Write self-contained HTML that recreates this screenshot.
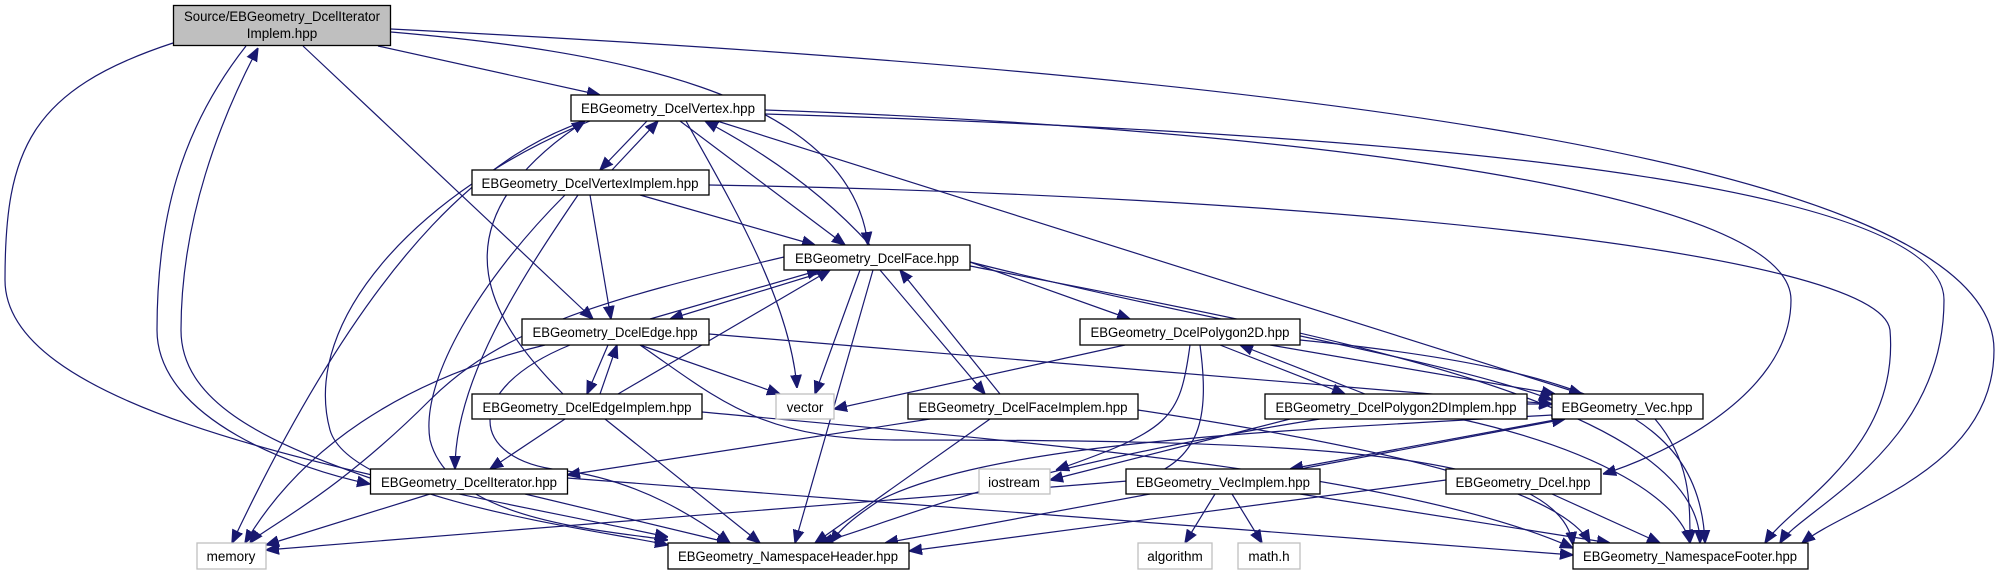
<!DOCTYPE html>
<html><head><meta charset="utf-8"><style>
html,body{margin:0;padding:0;background:#fff;}
svg{display:block;}
text{font-family:"Liberation Sans",sans-serif;font-size:13.5px;fill:#000;}
.e{fill:none;stroke:#191970;stroke-width:1.2;marker-end:url(#a);}
.n{fill:#fff;stroke:#000;stroke-width:1.3;}
.g{fill:#fff;stroke:#bfbfbf;stroke-width:1.3;}
</style></head><body>
<svg width="2000" height="575" viewBox="0 0 2000 575" xmlns="http://www.w3.org/2000/svg">
<defs><marker id="a" viewBox="0 0 10 10" refX="10" refY="5" markerWidth="13" markerHeight="13" markerUnits="userSpaceOnUse" orient="auto"><path d="M0,1 L10,5 L0,9 z" fill="#191970" stroke="#191970"/></marker></defs>
<g>
<path class="e" d="M378,46 L600,95"/>
<path class="e" d="M391,29 C1200,70 1994,150 1994,350 C1994,470 1850,505 1802,543"/>
<path class="e" d="M391,32 C600,50 850,90 868,245"/>
<path class="e" d="M303,46 L593,319"/>
<path class="e" d="M173,43 C30,90 5,150 5,280 C5,420 400,480 668,537"/>
<path class="e" d="M246,46 C180,130 157,220 157,330 C157,420 300,470 370,484"/>
<path class="e" d="M370,478 C260,440 181,400 181,330 C181,220 220,120 258,48"/>
<path class="e" d="M647,121 L600,170"/>
<path class="e" d="M612,170 L658,121"/>
<path class="e" d="M680,121 L845,245"/>
<path class="e" d="M870,245 C820,190 760,150 705,121"/>
<path class="e" d="M686,121 C730,200 790,300 797,388"/>
<path class="e" d="M717,121 L1582,394"/>
<path class="e" d="M765,110 C1200,125 1791,180 1791,300 C1791,400 1650,460 1603,474"/>
<path class="e" d="M765,114 C1300,130 1944,170 1944,300 C1944,450 1800,510 1780,543"/>
<path class="e" d="M709,185 C1300,195 1880,250 1890,330 C1900,450 1790,505 1765,543"/>
<path class="e" d="M640,195 L815,245"/>
<path class="e" d="M590,195 L611,319"/>
<path class="e" d="M578,195 C520,280 455,380 455,469"/>
<path class="e" d="M565,195 C480,280 420,380 430,440 C450,520 600,530 668,540"/>
<path class="e" d="M585,121 C500,150 380,230 232,543"/>
<path class="e" d="M590,121 C420,190 300,320 330,430 C350,500 600,530 668,545"/>
<path class="e" d="M563,394 C500,330 420,230 585,121"/>
<path class="e" d="M608,345 L587,394"/>
<path class="e" d="M600,394 L617,345"/>
<path class="e" d="M650,319 L820,270"/>
<path class="e" d="M830,270 L670,319"/>
<path class="e" d="M709,334 L1552,404"/>
<path class="e" d="M640,345 L780,394"/>
<path class="e" d="M545,345 C400,380 300,450 245,543"/>
<path class="e" d="M570,345 C460,390 470,460 560,470 C640,480 700,520 730,543"/>
<path class="e" d="M640,345 C720,400 760,440 900,440 C1300,440 1560,450 1573,545"/>
<path class="e" d="M565,419 L490,469"/>
<path class="e" d="M605,419 L760,543"/>
<path class="e" d="M702,412 C1000,440 1400,470 1573,548"/>
<path class="e" d="M618,394 L830,270"/>
<path class="e" d="M784,257 C600,300 500,330 430,400 C330,500 260,530 250,543"/>
<path class="e" d="M860,270 L815,394"/>
<path class="e" d="M873,270 L795,543"/>
<path class="e" d="M880,270 L985,394"/>
<path class="e" d="M1000,394 L900,270"/>
<path class="e" d="M970,262 L1130,319"/>
<path class="e" d="M970,262 C1200,320 1450,360 1552,400"/>
<path class="e" d="M970,266 C1300,330 1700,400 1700,543"/>
<path class="e" d="M1125,345 L834,409"/>
<path class="e" d="M1190,345 C1180,420 1170,430 1056,470"/>
<path class="e" d="M1200,345 C1210,420 1200,460 1140,480 C900,500 500,530 266,550"/>
<path class="e" d="M1220,345 L1345,394"/>
<path class="e" d="M1365,394 L1240,345"/>
<path class="e" d="M1270,345 L1555,394"/>
<path class="e" d="M1300,340 C1600,370 1700,420 1705,543"/>
<path class="e" d="M1527,404 L1552,404"/>
<path class="e" d="M1320,419 C1000,470 900,520 820,543"/>
<path class="e" d="M1460,419 C1600,450 1680,500 1690,543"/>
<path class="e" d="M1290,419 L1050,480"/>
<path class="e" d="M930,419 L567,475"/>
<path class="e" d="M990,419 L815,543"/>
<path class="e" d="M1138,410 C1400,450 1560,490 1590,543"/>
<path class="e" d="M1560,419 L1290,469"/>
<path class="e" d="M1300,469 L1565,419"/>
<path class="e" d="M1655,419 C1690,460 1690,500 1690,543"/>
<path class="e" d="M1552,415 C1300,430 1000,440 880,500 C850,520 840,530 830,543"/>
<path class="e" d="M1150,494 L885,543"/>
<path class="e" d="M1215,494 L1185,543"/>
<path class="e" d="M1232,494 L1262,543"/>
<path class="e" d="M1300,494 L1610,543"/>
<path class="e" d="M1446,480 L909,551"/>
<path class="e" d="M1552,494 L1660,543"/>
<path class="e" d="M567,478 L1573,555"/>
<path class="e" d="M430,494 L266,545"/>
<path class="e" d="M525,494 L730,543"/>
</g>
<g>
<rect x="173.5" y="5.5" width="217" height="40" fill="#bfbfbf" stroke="#000" stroke-width="1.3"/>
<text x="282" y="21" text-anchor="middle" textLength="196" lengthAdjust="spacingAndGlyphs">Source/EBGeometry_DcelIterator</text>
<text x="282" y="38" text-anchor="middle">Implem.hpp</text>

<rect class="n" x="571" y="95" width="194" height="26"/><text x="668" y="113" text-anchor="middle" textLength="174" lengthAdjust="spacingAndGlyphs">EBGeometry_DcelVertex.hpp</text>
<rect class="n" x="472" y="170" width="237" height="25"/><text x="590" y="188" text-anchor="middle" textLength="217" lengthAdjust="spacingAndGlyphs">EBGeometry_DcelVertexImplem.hpp</text>
<rect class="n" x="784" y="245" width="186" height="25"/><text x="877" y="263" text-anchor="middle" textLength="164" lengthAdjust="spacingAndGlyphs">EBGeometry_DcelFace.hpp</text>
<rect class="n" x="522" y="319" width="187" height="26"/><text x="615" y="337" text-anchor="middle" textLength="165" lengthAdjust="spacingAndGlyphs">EBGeometry_DcelEdge.hpp</text>
<rect class="n" x="1080" y="319" width="220" height="26"/><text x="1190" y="337" text-anchor="middle" textLength="199" lengthAdjust="spacingAndGlyphs">EBGeometry_DcelPolygon2D.hpp</text>
<rect class="n" x="472" y="394" width="230" height="25"/><text x="587" y="412" text-anchor="middle" textLength="209" lengthAdjust="spacingAndGlyphs">EBGeometry_DcelEdgeImplem.hpp</text>
<rect class="g" x="776" y="394" width="58" height="25"/><text x="805" y="412" text-anchor="middle">vector</text>
<rect class="n" x="908" y="394" width="230" height="25"/><text x="1023" y="412" text-anchor="middle" textLength="209" lengthAdjust="spacingAndGlyphs">EBGeometry_DcelFaceImplem.hpp</text>
<rect class="n" x="1265" y="394" width="262" height="25"/><text x="1396" y="412" text-anchor="middle" textLength="241" lengthAdjust="spacingAndGlyphs">EBGeometry_DcelPolygon2DImplem.hpp</text>
<rect class="n" x="1552" y="394" width="151" height="25"/><text x="1627" y="412" text-anchor="middle" textLength="131" lengthAdjust="spacingAndGlyphs">EBGeometry_Vec.hpp</text>
<rect class="n" x="370.5" y="469" width="197" height="25"/><text x="469" y="487" text-anchor="middle" textLength="176" lengthAdjust="spacingAndGlyphs">EBGeometry_DcelIterator.hpp</text>
<rect class="g" x="979" y="469" width="71" height="25"/><text x="1014" y="487" text-anchor="middle">iostream</text>
<rect class="n" x="1126" y="469" width="194" height="25"/><text x="1223" y="487" text-anchor="middle" textLength="174" lengthAdjust="spacingAndGlyphs">EBGeometry_VecImplem.hpp</text>
<rect class="n" x="1446" y="469" width="155" height="25"/><text x="1523" y="487" text-anchor="middle" textLength="135" lengthAdjust="spacingAndGlyphs">EBGeometry_Dcel.hpp</text>
<rect class="g" x="197" y="543" width="69" height="26"/><text x="231" y="561" text-anchor="middle">memory</text>
<rect class="n" x="668" y="543" width="241" height="26"/><text x="788" y="561" text-anchor="middle" textLength="220" lengthAdjust="spacingAndGlyphs">EBGeometry_NamespaceHeader.hpp</text>
<rect class="g" x="1138" y="543" width="74" height="26"/><text x="1175" y="561" text-anchor="middle">algorithm</text>
<rect class="g" x="1238" y="543" width="62" height="26"/><text x="1269" y="561" text-anchor="middle">math.h</text>
<rect class="n" x="1573" y="543" width="235" height="26"/><text x="1690" y="561" text-anchor="middle" textLength="214" lengthAdjust="spacingAndGlyphs">EBGeometry_NamespaceFooter.hpp</text>
</g>
</svg>
</body></html>
